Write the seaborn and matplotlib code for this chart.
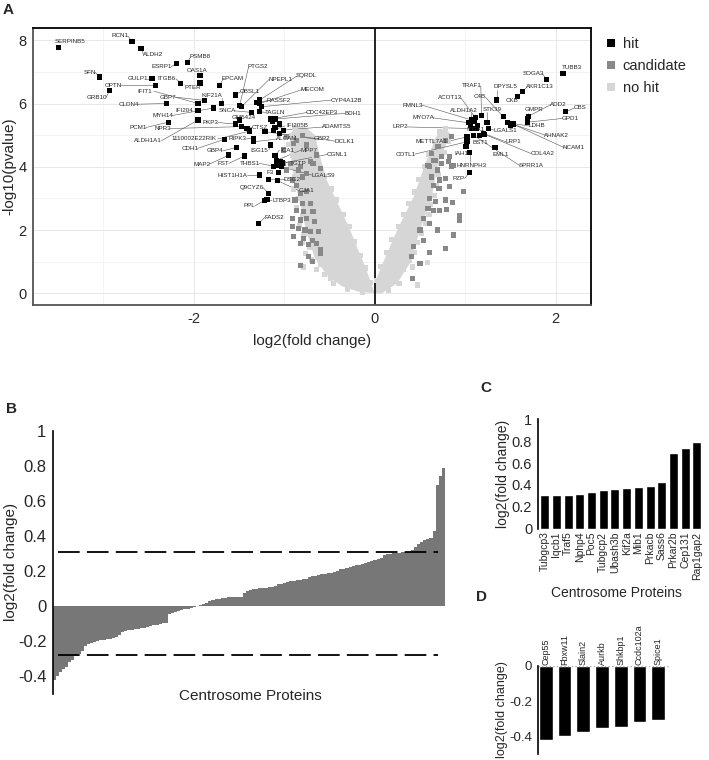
import matplotlib
matplotlib.use('Agg')
import matplotlib.pyplot as plt
import seaborn as sns
import numpy as np
import pandas as pd

sns.set_style('white')
plt.rcParams['font.family'] = ['Liberation Sans', 'DejaVu Sans']
plt.rcParams['axes.unicode_minus'] = False

# ---------------- Panel A data (volcano) ----------------
hit_genes = ['SERPINB5', 'RCN1', 'ALDH2', 'PSMB8', 'ESRP1', 'OAS1A', 'SFN', 'GULP1', 'ITGB6', 'EPCAM',
             'PTER', 'OPTN', 'GRB10', 'IFIT1', 'GBP7', 'KIF21A', 'IFI204', 'MYH14', 'PTGS2', 'NPEPL1',
             'SQRDL', 'OBSL1', 'MECOM', 'RASSF2', 'CYP4A12B', 'CLDN4', 'SNCA', 'TAGLN', 'CDC42EP3', 'BDH1',
             'GM5424', 'PCM1', 'NPR3', 'PKP3', 'CTSZ', 'IFI205B', 'ADAMTS5', 'ALDH1A1', '1110002E22RIK', 'CDH1',
             'RIPK3', 'ALCAM', 'GBP2', 'DCLK1', 'ISG15', 'ICA1', 'MPP7', 'CGNL1', 'GBP4', 'MAP2',
             'FST', 'THBS1', 'TGTP', 'HIST1H1A', 'F3', 'LGALS9', 'DSG2', 'GJA1', 'Q9CYZ6', 'LTBP3',
             'PPL', 'FADS2',
             'TUBB3', 'SOGA3', 'AKR1C13', 'CKB', 'DPYSL5', 'CBS', 'ADD2', 'GMPR', 'GPD1', 'STK39',
             'C4B', 'TRAF1', 'LDHB', 'AHNAK2', 'NCAM1', 'ACOT13', 'FMNL3', 'ALDH1A2', 'MYO7A', 'LRP2',
             'ITGA1', 'LGALS1', 'METTL7A1', 'BST1', 'LRP1', 'COL4A2', 'COTL1', 'IAH1', 'EML1', 'SPRR1A',
             'HNRNPH3', 'PZP']
hit_fc = [-3.49, -2.68, -2.58, -2.07, -2.19, -1.93, -3.04, -2.46, -2.14, -1.71,
          -1.93, -2.42, -2.93, -1.95, -1.88, -1.69, -1.95, -1.78, -1.49, -1.47,
          -1.27, -1.54, -1.27, -1.30, -1.25, -2.30, -1.36, -1.27, -1.15, -1.10,
          -1.49, -2.28, -1.47, -1.54, -1.41, -1.12, -1.01, -1.95, -1.38, -1.66,
          -1.34, -1.34, -1.21, -1.05, -1.15, -1.10, -1.08, -1.06, -1.53, -1.61,
          -1.44, -1.12, -1.04, -1.27, -1.06, -1.03, -1.17, -1.07, -1.17, -1.19,
          -1.22, -1.28,
          2.08, 1.90, 1.63, 1.58, 1.35, 2.11, 1.70, 1.69, 1.69, 1.24,
          1.42, 1.18, 1.47, 1.50, 1.53, 1.11, 1.07, 1.06, 1.04, 1.07,
          1.12, 1.26, 1.02, 1.16, 1.20, 1.21, 1.02, 1.01, 1.33, 1.09,
          1.05, 1.05]
hit_p = [7.77, 7.97, 7.74, 7.29, 7.27, 6.88, 6.84, 6.79, 6.64, 6.58,
         6.65, 6.56, 6.40, 6.00, 6.10, 6.00, 5.77, 5.86, 5.95, 5.90,
         6.11, 6.27, 6.00, 6.04, 5.90, 6.00, 5.72, 5.74, 5.51, 5.51,
         5.48, 5.41, 5.27, 5.35, 5.21, 5.16, 5.16, 5.48, 5.13, 4.87,
         4.90, 4.79, 5.11, 5.05, 4.69, 4.35, 4.21, 4.09, 4.61, 4.37,
         4.34, 4.02, 4.16, 3.74, 3.81, 4.00, 3.60, 3.56, 3.16, 2.97,
         2.93, 2.21,
         6.95, 6.76, 6.37, 6.23, 6.11, 5.74, 5.60, 5.51, 5.41, 5.39,
         5.58, 5.63, 5.39, 5.37, 5.35, 5.56, 5.48, 5.32, 5.39, 5.21,
         5.21, 5.21, 4.95, 5.00, 5.06, 5.03, 4.79, 4.63, 4.60, 5.00,
         4.44, 3.82]

# unlabeled hits in the dense clusters
hit_extra_fc = [-1.10, -1.05, -1.13, -1.08, -1.02, 1.10, 1.14, 1.50]
hit_extra_p = [5.25, 5.35, 5.45, 4.05, 4.12, 5.45, 5.30, 5.30]

cand_fc = [-0.91, -0.86, -0.82, -0.75, -0.88, -0.80, -0.71, -0.86, -0.79, -0.68,
           -0.91, -0.82, -0.75, -0.66, -0.91, -0.84, -0.77, -0.71, -0.62, -0.90,
           -0.79, -0.69, -0.82, -0.73, -0.64, -0.60, -1.01, -0.97, -0.82, -0.75,
           -0.68, -0.82, -0.69, -0.73, -0.60, -1.01, -0.93, -0.84, -0.80, -0.97,
           -0.90, -0.80, -0.75, -0.86, -0.64, -0.71, -0.60,
           0.65, 0.61, 0.69, 0.74, 0.82, 0.85, 0.63, 0.72, 0.78, 0.65,
           0.71, 0.83, 0.98, 0.61, 0.67, 0.78, 0.86, 0.59, 0.65, 0.72,
           0.79, 0.94, 0.94, 0.54, 0.61, 0.69, 0.50, 0.87, 0.78, 0.61,
           0.54, 0.43, 0.41, 0.50, 0.42, 0.85, 0.78, 0.70, 0.63, 0.67,
           0.74, 0.83, 0.87, 0.59]
cand_p = [3.58, 3.42, 3.16, 3.21, 2.95, 2.84, 2.84, 2.63, 2.58, 2.58,
          2.37, 2.32, 2.37, 2.26, 2.10, 2.05, 2.00, 1.95, 1.95, 1.79,
          1.74, 1.68, 1.58, 1.53, 1.58, 1.37, 4.11, 3.90, 4.00, 3.79,
          4.11, 0.89, 1.00, 1.16, 1.26, 4.53, 4.11, 3.90, 3.68, 4.95,
          4.74, 5.00, 4.69, 4.84, 4.37, 4.16, 3.95,
          4.21, 4.00, 3.90, 4.11, 4.16, 4.00, 3.68, 3.58, 3.63, 3.42,
          3.32, 3.37, 3.21, 3.00, 2.89, 2.95, 2.86, 2.68, 2.63, 2.63,
          2.65, 2.47, 2.32, 2.37, 2.21, 2.00, 2.00, 1.84, 1.42, 1.28,
          1.68, 1.47, 1.16, 0.95, 0.47, 4.95, 4.84, 4.63, 4.42, 4.21,
          4.32, 4.32, 4.05, 4.05]

nohit_fc = [-0.79, -0.64, -0.49, -0.39, -0.13, -0.70, -0.76, -0.72, -0.80, -0.78,
            -0.83, -0.80, -0.86, -0.84, -0.90, -0.88, -0.93, -0.91, -0.95, -0.92,
            -0.55, -0.45, -0.60, -0.30, -0.22,
            -0.05, -0.10, -0.16, -0.22, -0.28, -0.34, -0.42, -0.48, -0.56, -0.62,
            -0.68, -0.74, -0.82, -0.88, -0.85, -0.76, -0.66,
            0.02, 0.07, 0.13, 0.19, 0.26, 0.32, 0.38, 0.44, 0.49, 0.55,
            0.60, 0.66, 0.72, 0.78,
            0.27, 0.32, 0.42, 0.47, 0.58, 0.38, 0.44, 0.47, 0.52, 0.56,
            0.60, 0.62, 0.66, 0.68, 0.70, 0.73, 0.77, 0.81, 0.15, 0.22]
nohit_p = [0.83, 0.76, 0.47, 0.62, 0.04, 1.05, 1.25, 1.45, 1.60, 1.85,
           2.15, 2.45, 2.70, 3.00, 3.30, 3.70, 4.00, 4.35, 4.70, 5.00,
           0.60, 0.30, 0.90, 0.12, 0.30,
           0.35, 0.80, 1.20, 1.65, 2.10, 2.50, 2.95, 3.30, 3.70, 4.05,
           4.40, 4.75, 5.10, 5.25, 4.95, 4.60, 4.25,
           0.40, 0.85, 1.30, 1.70, 2.10, 2.50, 2.85, 3.20, 3.60, 4.00,
           4.40, 4.80, 5.10, 5.20,
           0.32, 0.76, 0.83, 0.26, 0.98, 1.05, 1.30, 1.60, 1.90, 2.20,
           2.50, 2.80, 3.10, 3.40, 3.75, 4.10, 4.45, 4.80, 0.10, 0.55]

# outline of the dense "no hit" cloud (too many overlapping points to list)
cloud_left_fc = [0.0, -0.05, -0.12, -0.20, -0.27, -0.40, -0.53, -0.60, -0.66, -0.76, -0.88,
                 -0.94, -0.92, -0.88, -0.82, -0.76, -0.66, -0.52, -0.36, -0.18]
cloud_left_p = [0.0, 0.42, 0.95, 1.50, 2.00, 2.80, 3.58, 4.30, 5.00, 5.25, 5.25,
                5.00, 4.20, 3.50, 2.80, 2.00, 1.10, 0.55, 0.22, 0.05]
cloud_right_fc = [0.0, 0.0, 0.09, 0.25, 0.43, 0.56, 0.68, 0.76,
                  0.84, 0.70, 0.63, 0.50, 0.39, 0.25, 0.08]
cloud_right_p = [0.0, 0.32, 0.95, 2.00, 3.05, 4.10, 4.95, 5.20,
                 5.05, 4.10, 3.05, 2.00, 0.95, 0.32, 0.0]

# label positions for the volcano gene names
label_pos = {
    'SERPINB5': (-3.36, 7.96), 'RCN1': (-2.81, 8.14), 'ALDH2': (-2.45, 7.55), 'PSMB8': (-1.93, 7.48),
    'ESRP1': (-2.35, 7.16), 'OAS1A': (-1.96, 7.06), 'SFN': (-3.15, 6.99), 'GULP1': (-2.62, 6.79),
    'ITGB6': (-2.30, 6.79), 'EPCAM': (-1.57, 6.79), 'PTER': (-2.01, 6.50), 'OPTN': (-2.89, 6.58),
    'GRB10': (-3.07, 6.19), 'IFIT1': (-2.54, 6.39), 'GBP7': (-2.28, 6.20), 'KIF21A': (-1.80, 6.27),
    'IFI204': (-2.10, 5.77), 'MYH14': (-2.34, 5.62), 'PTGS2': (-1.29, 7.16), 'NPEPL1': (-1.04, 6.77),
    'SQRDL': (-0.75, 6.88), 'OBSL1': (-1.38, 6.37), 'MECOM': (-0.69, 6.45), 'RASSF2': (-1.06, 6.09),
    'CYP4A12B': (-0.31, 6.11), 'CLDN4': (-2.72, 5.98), 'SNCA': (-1.63, 5.77), 'TAGLN': (-1.10, 5.72),
    'CDC42EP3': (-0.58, 5.72), 'BDH1': (-0.24, 5.69), 'GM5424': (-1.45, 5.55), 'PCM1': (-2.61, 5.24),
    'NPR3': (-2.34, 5.21), 'PKP3': (-1.81, 5.40), 'CTSZ': (-1.27, 5.24), 'IFI205B': (-0.85, 5.29),
    'ADAMTS5': (-0.42, 5.26), 'ALDH1A1': (-2.50, 4.82), '1110002E22RIK': (-2.00, 4.88), 'CDH1': (-2.04, 4.58),
    'RIPK3': (-1.52, 4.88), 'ALCAM': (-0.97, 4.88), 'GBP2': (-0.58, 4.88), 'DCLK1': (-0.33, 4.81),
    'ISG15': (-1.27, 4.53), 'ICA1': (-0.97, 4.53), 'MPP7': (-0.73, 4.53), 'CGNL1': (-0.42, 4.39),
    'GBP4': (-1.76, 4.50), 'MAP2': (-1.91, 4.08), 'FST': (-1.67, 4.11), 'THBS1': (-1.38, 4.11),
    'TGTP': (-0.84, 4.11), 'HIST1H1A': (-1.57, 3.74), 'F3': (-1.15, 3.81), 'LGALS9': (-0.57, 3.74),
    'DSG2': (-0.91, 3.60), 'GJA1': (-0.75, 3.24), 'Q9CYZ6': (-1.36, 3.35), 'LTBP3': (-1.03, 2.93),
    'PPL': (-1.38, 2.77), 'FADS2': (-1.11, 2.40),
    'TUBB3': (2.18, 7.13), 'SOGA3': (1.75, 6.95), 'AKR1C13': (1.83, 6.53), 'CKB': (1.52, 6.11),
    'DPYSL5': (1.44, 6.53), 'CBS': (2.27, 5.86), 'ADD2': (2.03, 5.97), 'GMPR': (1.76, 5.81),
    'GPD1': (2.16, 5.53), 'STK39': (1.30, 5.82), 'C4B': (1.16, 6.21), 'TRAF1': (1.07, 6.56),
    'LDHB': (1.79, 5.29), 'AHNAK2': (2.01, 5.00), 'NCAM1': (2.20, 4.60), 'ACOT13': (0.83, 6.18),
    'FMNL3': (0.42, 5.95), 'ALDH1A2': (0.98, 5.79), 'MYO7A': (0.54, 5.55), 'LRP2': (0.28, 5.26),
    'ITGA1': (1.11, 5.19), 'LGALS1': (1.44, 5.16), 'METTL7A1': (0.63, 4.79), 'BST1': (1.17, 4.77),
    'LRP1': (1.53, 4.79), 'COL4A2': (1.85, 4.42), 'COTL1': (0.34, 4.40), 'IAH1': (0.96, 4.42),
    'EML1': (1.39, 4.39), 'SPRR1A': (1.73, 4.03), 'HNRNPH3': (1.07, 4.05), 'PZP': (0.93, 3.63),
}

# ---------------- Panels B-D data ----------------
d_genes = ['Cep55', 'Fbxw11', 'Slain2', 'Aurkb', 'Shkbp1', 'Ccdc102a', 'Spice1']
d_fc = [-0.42, -0.40, -0.373, -0.355, -0.344, -0.318, -0.308]

c_genes = ['Tubgcp3', 'Iqcb1', 'Traf5', 'Nphp4', 'Poc5', 'Tubgcp2', 'Ubash3b', 'Kif2a', 'Mib1',
           'Prkacb', 'Sass6', 'Prkar2b', 'Cep131', 'Rap1gap2']
c_fc = [0.31, 0.31, 0.31, 0.32, 0.34, 0.355, 0.365, 0.375, 0.385, 0.39, 0.43, 0.69, 0.74, 0.79]

b_mid_fc = [-0.285, -0.27, -0.255, -0.228, -0.215, -0.207, -0.202, -0.198, -0.193, -0.19,
            -0.188, -0.186, -0.183, -0.175, -0.162, -0.145, -0.14, -0.137, -0.135, -0.132,
            -0.128, -0.126, -0.123, -0.118, -0.112, -0.108, -0.106, -0.103, -0.098, -0.093,
            -0.046, -0.04, -0.034, -0.028, -0.022, -0.018, -0.013, -0.008, -0.004, 0.003,
            0.008, 0.013, 0.02, 0.03, 0.035, 0.04, 0.043, 0.046, 0.048, 0.05,
            0.051, 0.052, 0.053, 0.054, 0.075, 0.085, 0.095, 0.098, 0.1, 0.102,
            0.104, 0.106, 0.109, 0.112, 0.115, 0.125, 0.128, 0.13, 0.138, 0.142,
            0.144, 0.147, 0.15, 0.153, 0.156, 0.168, 0.172, 0.175, 0.178, 0.181,
            0.184, 0.187, 0.19, 0.194, 0.198, 0.21, 0.215, 0.22, 0.225, 0.23,
            0.234, 0.237, 0.241, 0.245, 0.25, 0.258, 0.263, 0.27, 0.276, 0.29,
            0.295, 0.298, 0.302, 0.304, 0.306]
b_fc = d_fc + b_mid_fc + c_fc
cut_up, cut_down = 0.31, -0.275

fig = plt.figure(figsize=(7.09, 7.60), dpi=100)

# ---------------- A: volcano ----------------
axA = fig.add_axes([0.047, 0.5987, 0.7866, 0.3641])
df = pd.concat([
    pd.DataFrame({'fc': nohit_fc, 'p': nohit_p, 'status': 'no hit'}),
    pd.DataFrame({'fc': cand_fc, 'p': cand_p, 'status': 'candidate'}),
    pd.DataFrame({'fc': hit_extra_fc, 'p': hit_extra_p, 'status': 'hit'}),
    pd.DataFrame({'fc': hit_fc, 'p': hit_p, 'status': 'hit'}),
], ignore_index=True)
pal = {'hit': 'black', 'candidate': '#888888', 'no hit': '#d6d6d6'}

axA.fill(cloud_left_fc, cloud_left_p, color=pal['no hit'], lw=0, zorder=1)
axA.fill(cloud_right_fc, cloud_right_p, color=pal['no hit'], lw=0, zorder=1)
sns.scatterplot(data=df, x='fc', y='p', hue='status', hue_order=['hit', 'candidate', 'no hit'],
                palette=pal, marker='s', s=14, linewidth=0, ax=axA, zorder=3)

for g, x, y in zip(hit_genes, hit_fc, hit_p):
    lx, ly = label_pos[g]
    axA.text(lx, ly, g, fontsize=4.5, ha='center', va='center', zorder=5)
    half = 0.0205 * len(g)
    if abs(x - lx) > half:
        ex, ey = lx + np.sign(x - lx) * half, ly
    else:
        ex, ey = x, ly + np.sign(y - ly) * 0.1
    if np.hypot((x - ex) * 90.5, (y - ey) * 31.65) > 5:
        axA.plot([ex, x], [ey, y], color='#555555', lw=0.4, zorder=2.5)

axA.axvline(0, color='black', lw=1.2, zorder=2)
axA.set_xlim(-3.77, 2.39)
axA.set_ylim(-0.37, 8.38)
axA.set_xticks([-2, 0, 2])
axA.set_yticks([0, 2, 4, 6, 8])
axA.set_xticks([-3, -1, 1], minor=True)
axA.set_yticks([1, 3, 5, 7], minor=True)
axA.grid(which='major', color='#e8e8e8', lw=0.7)
axA.grid(which='minor', color='#f0f0f0', lw=0.5)
axA.set_axisbelow(True)
axA.tick_params(which='minor', length=0)
axA.tick_params(which='major', length=3, color='#444444', labelsize=10.5, pad=2, direction='out')
axA.set_xlabel('log2(fold change)', fontsize=11, labelpad=6)
axA.set_ylabel('-log10(pvalue)', fontsize=11, labelpad=1)
for s in ['top', 'right']:
    axA.spines[s].set(color='black', lw=1.3)
for s in ['left', 'bottom']:
    axA.spines[s].set(color='#555555', lw=1.3)
sns.move_legend(axA, 'upper left', bbox_to_anchor=(1.012, 0.99), title=None, frameon=False,
                fontsize=10.5, markerscale=1.6, handlelength=1.0, handletextpad=0.3,
                labelspacing=0.56, borderaxespad=0)

# ---------------- B: all centrosome proteins ----------------
axB = fig.add_axes([0.0743, 0.0868, 0.5534, 0.3465])
sns.barplot(x=np.arange(len(b_fc)), y=b_fc, color='#777777', width=1.0, saturation=1,
            linewidth=0, errorbar=None, ax=axB)
axB.hlines([cut_up, cut_down], 1.1, 123.3, colors='black', linestyles=(0, (12, 4)), lw=1.3)
axB.set_xlim(-0.5, len(b_fc) - 0.5)
axB.set_ylim(-0.5, 1.0)
axB.set_xticks([])
axB.set_yticks([-0.4, -0.2, 0, 0.2, 0.4, 0.6, 0.8, 1.0])
axB.set_yticklabels(['-0.4', '-0.2', '0', '0.2', '0.4', '0.6', '0.8', '1'])
axB.tick_params(axis='y', length=3.5, width=1, labelsize=12, pad=1)
for s in ['top', 'right', 'bottom']:
    axB.spines[s].set_visible(False)
axB.spines['left'].set(color='black', lw=1.2)
axB.set_ylabel('log2(fold change)', fontsize=11, labelpad=0)
axB.set_xlabel('Centrosome Proteins', fontsize=11)
axB.xaxis.set_label_coords(0.505, 0.02)

# ---------------- C: top enriched ----------------
axC = fig.add_axes([0.7584, 0.3043, 0.2327, 0.1439])
sns.barplot(x=c_genes, y=c_fc, color='black', width=0.77, saturation=1, errorbar=None, ax=axC)
axC.set_xlim(-0.6, 13.5)
axC.set_ylim(0, 1)
axC.set_yticks([0, 0.2, 0.4, 0.6, 0.8, 1.0])
axC.set_yticklabels(['0', '0.2', '0.4', '0.6', '0.8', '1'])
axC.tick_params(axis='y', length=3, width=1, labelsize=10.5, pad=1)
axC.tick_params(axis='x', length=0, rotation=90, labelsize=7.5, pad=2)
for s in ['top', 'right', 'bottom']:
    axC.spines[s].set_visible(False)
axC.spines['left'].set(color='black', lw=1.2)
axC.set_ylabel('log2(fold change)', fontsize=10, labelpad=1)
axC.set_xlabel('Centrosome Proteins', fontsize=10)
axC.xaxis.set_label_coords(0.475, -0.52)

# ---------------- D: top depleted ----------------
axD = fig.add_axes([0.7584, 0.0079, 0.1856, 0.1158])
sns.barplot(x=d_genes, y=d_fc, color='black', width=0.73, saturation=1, errorbar=None, ax=axD)
axD.axhline(0, color='#aaaaaa', ls=':', lw=1)
axD.set_xlim(-0.44, 6.6)
axD.set_ylim(-0.5, 0)
axD.xaxis.set_ticks_position('top')
axD.tick_params(axis='x', length=0, rotation=90, labelsize=6.5, pad=1)
axD.set_yticks([-0.4, -0.2, 0])
axD.set_yticklabels(['-0.4', '-0.2', '0'])
axD.tick_params(axis='y', length=3, width=1, labelsize=9.5, pad=1)
for s in ['top', 'right', 'bottom']:
    axD.spines[s].set_visible(False)
axD.spines['left'].set(color='black', lw=1.2)
axD.set_ylabel('log2(fold change)', fontsize=9, labelpad=1)
axD.set_xlabel('')

# panel letters
fig.text(0.004, 0.987, 'A', fontsize=11, fontweight='bold', va='center')
fig.text(0.0085, 0.462, 'B', fontsize=11, fontweight='bold', va='center')
fig.text(0.677, 0.4895, 'C', fontsize=11, fontweight='bold', va='center')
fig.text(0.672, 0.2145, 'D', fontsize=11, fontweight='bold', va='center')

fig.savefig('out.png', dpi=100)
